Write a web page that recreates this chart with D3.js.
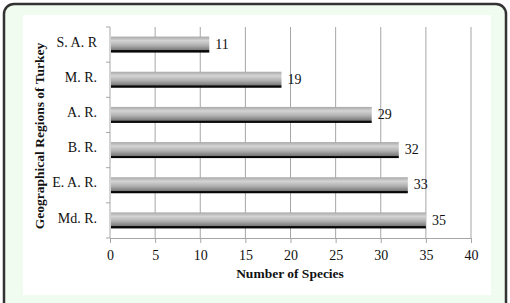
<!DOCTYPE html>
<html><head><meta charset="utf-8">
<script src="https://cdn.jsdelivr.net/npm/d3@7"></script>
<style>body{margin:0;background:#fff}svg{display:block}text{font-family:"Liberation Serif","Times New Roman",serif}</style>
</head><body>
<svg id="c" width="510" height="303"></svg>
<script>
const categories = ["S. A. R", "M. R.", "A. R.", "B. R.", "E. A. R.", "Md. R."];
const values = [11, 19, 29, 32, 33, 35];
const xTicks = [0, 5, 10, 15, 20, 25, 30, 35, 40];

const svg = d3.select("#c");
svg.append("rect").attr("x", 4).attr("y", 4).attr("width", 502).attr("height", 320)
  .attr("rx", 10).attr("fill", "#effcef").attr("stroke", "#333").attr("stroke-width", 2.5);
svg.append("rect").attr("x", 23).attr("y", 15).attr("width", 468).attr("height", 280).attr("fill", "#fff");

const defs = svg.append("defs");
const g = defs.append("linearGradient").attr("id", "bg").attr("x1", 0).attr("x2", 0).attr("y1", 0).attr("y2", 1);
[[0, "#a8a8a8"], [0.25, "#d4d4d4"], [0.55, "#b0b0b0"], [0.84, "#7a7a7a"], [0.87, "#111"], [1, "#000"]]
  .forEach(([o, c]) => g.append("stop").attr("offset", o).attr("stop-color", c));

const x = d3.scaleLinear().domain([0, 40]).range([110, 471]);
const y = d3.scaleBand().domain(categories).range([27, 238]).paddingInner(0.55).paddingOuter(0.275);

svg.append("g").selectAll("line").data(xTicks.slice(1)).join("line")
  .attr("x1", d => x(d)).attr("x2", d => x(d)).attr("y1", 27).attr("y2", 238)
  .attr("stroke", "#a6a6a6").attr("stroke-width", 1);

const xa = svg.append("g").attr("transform", "translate(0,238)")
  .call(d3.axisBottom(x).tickValues(xTicks).tickSize(5).tickPadding(7));
xa.select(".domain").attr("stroke", "#a6a6a6");
xa.selectAll(".tick line").attr("stroke", "#a6a6a6");
xa.selectAll("text").attr("font-size", 14).attr("fill", "#111").style("font-family", "Liberation Serif");

svg.append("line").attr("x1", 110).attr("x2", 110).attr("y1", 27).attr("y2", 238).attr("stroke", "#a6a6a6");
svg.append("g").selectAll("line").data(d3.range(7)).join("line")
  .attr("x1", 106).attr("x2", 110).attr("y1", i => 27 + i * (211 / 6)).attr("y2", i => 27 + i * (211 / 6))
  .attr("stroke", "#a6a6a6");

const bh = 16;
svg.append("g").selectAll("rect").data(values).join("rect")
  .attr("x", x(0) + 1).attr("y", (d, i) => y(categories[i]) + y.bandwidth() / 2 - bh / 2)
  .attr("width", d => x(d) - x(0) - 1).attr("height", bh).attr("fill", "url(#bg)");

svg.append("g").selectAll("text").data(values).join("text")
  .attr("x", d => x(d) + 6).attr("y", (d, i) => y(categories[i]) + y.bandwidth() / 2 + 1)
  .attr("dominant-baseline", "middle").attr("font-size", 14).attr("fill", "#111").text(d => d);

svg.append("g").selectAll("text").data(categories).join("text")
  .attr("x", 97).attr("y", d => y(d) + y.bandwidth() / 2 - 1)
  .attr("dominant-baseline", "middle").attr("text-anchor", "end").attr("font-size", 14).attr("fill", "#111").text(d => d);

svg.append("text").attr("transform", "translate(44,136) rotate(-90)").attr("text-anchor", "middle")
  .attr("font-size", 13.5).attr("font-weight", "bold").attr("fill", "#111").text("Geographical Regions of Turkey");
svg.append("text").attr("x", 290).attr("y", 278).attr("text-anchor", "middle")
  .attr("font-size", 13.5).attr("font-weight", "bold").attr("fill", "#111").text("Number of Species");
</script>
</body></html>
